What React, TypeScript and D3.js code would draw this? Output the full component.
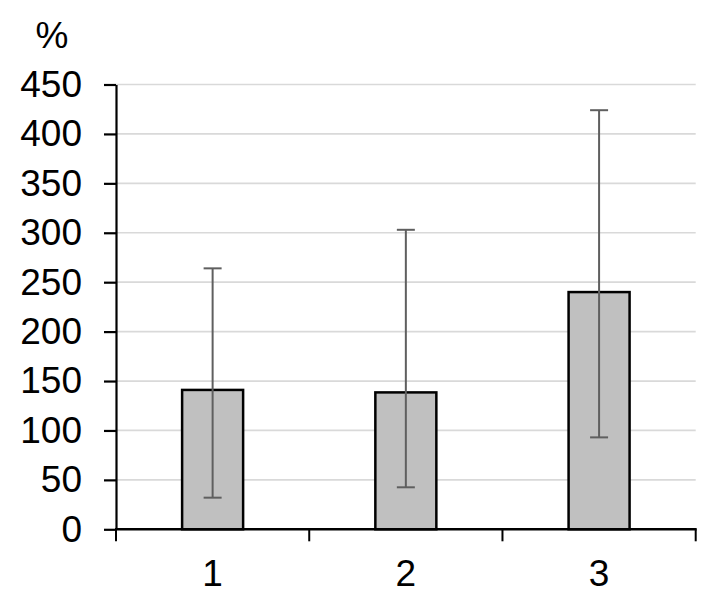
import { useRef, useEffect } from 'react';
import * as d3 from 'd3';

const categories = ['1', '2', '3'];
const means = [141, 138.5, 240];
const errLow = [32, 42.5, 93];
const errHigh = [264, 303, 424];
const yTicks = [0, 50, 100, 150, 200, 250, 300, 350, 400, 450];

const W = 715;
const H = 605;

export default function App() {
  const svgRef = useRef<SVGSVGElement>(null);

  useEffect(() => {
    if (!svgRef.current) return;
    const svg = d3.select(svgRef.current);
    svg.selectAll('*').remove();

    const left = 116, right = 695.7, top = 84.5, bottom = 529.3;
    const font = '"Liberation Sans", Arial, sans-serif';

    const y = d3.scaleLinear().domain([0, 450]).range([bottom, top]);
    const inner = 1 - 61 / ((right - left) / categories.length);
    const x = d3.scaleBand().domain(categories).range([left, right])
      .paddingInner(inner).paddingOuter(inner / 2);
    const edges = d3.scaleLinear().domain([0, categories.length]).range([left, right]);

    // gridlines
    svg.append('g').selectAll('line').data(yTicks.filter((t) => t > 0)).join('line')
      .attr('x1', left).attr('x2', right)
      .attr('y1', (d) => y(d)).attr('y2', (d) => y(d))
      .attr('stroke', '#d9d9d9').attr('stroke-width', 1.7);

    const rows = categories.map((c, i) => ({ c, m: means[i], lo: errLow[i], hi: errHigh[i] }));

    // bars
    svg.append('g').selectAll('rect').data(rows).join('rect')
      .attr('x', (d) => x(d.c) ?? 0)
      .attr('y', (d) => y(d.m))
      .attr('width', x.bandwidth())
      .attr('height', (d) => bottom - y(d.m))
      .attr('fill', '#c0c0c0').attr('stroke', '#000').attr('stroke-width', 2.5);

    // error bars
    const eg = svg.append('g').attr('stroke', '#5f5f5f').attr('stroke-width', 2);
    rows.forEach((d) => {
      const cx = (x(d.c) ?? 0) + x.bandwidth() / 2;
      eg.append('line').attr('x1', cx).attr('x2', cx).attr('y1', y(d.lo)).attr('y2', y(d.hi));
      [d.lo, d.hi].forEach((v) => {
        eg.append('line').attr('x1', cx - 9).attr('x2', cx + 9).attr('y1', y(v)).attr('y2', y(v));
      });
    });

    // y axis
    const ya = svg.append('g').attr('transform', `translate(${left},0)`)
      .call(d3.axisLeft(y).tickValues(yTicks).tickSize(12).tickPadding(22).tickSizeOuter(0));
    ya.select('.domain').attr('stroke', '#000').attr('stroke-width', 2.2);
    ya.selectAll('.tick line').attr('stroke', '#000').attr('stroke-width', 2.2);
    ya.selectAll('.tick text').attr('font-family', font).attr('font-size', 37).attr('fill', '#000');

    // x axis
    svg.append('line').attr('x1', left - 1).attr('x2', right + 1)
      .attr('y1', bottom).attr('y2', bottom).attr('stroke', '#000').attr('stroke-width', 2.6);
    svg.append('g').selectAll('line').data(d3.range(categories.length + 1)).join('line')
      .attr('x1', (d) => edges(d)).attr('x2', (d) => edges(d))
      .attr('y1', bottom).attr('y2', bottom + 12)
      .attr('stroke', '#000').attr('stroke-width', 2);
    svg.append('g').selectAll('text').data(categories).join('text')
      .attr('x', (d) => (x(d) ?? 0) + x.bandwidth() / 2)
      .attr('y', 586)
      .attr('text-anchor', 'middle')
      .attr('font-family', font).attr('font-size', 37).attr('fill', '#000')
      .text((d) => d);

    // unit label
    svg.append('text').attr('x', 52).attr('y', 48).attr('text-anchor', 'middle')
      .attr('font-family', font).attr('font-size', 37).attr('fill', '#000').text('%');
  }, []);

  return (
    <svg ref={svgRef} width={W} height={H}
      style={{ position: 'absolute', left: 0, top: 0, background: '#fff' }} />
  );
}
